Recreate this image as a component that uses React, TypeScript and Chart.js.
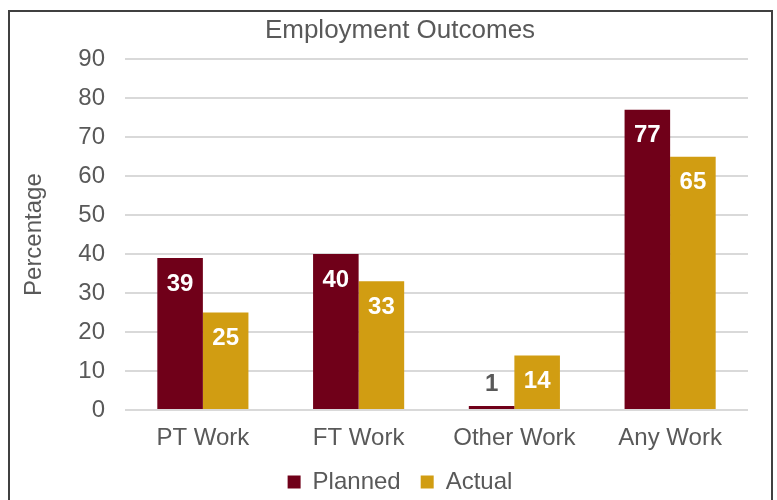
import React, { useEffect, useRef } from "react";
import { Chart, registerables } from "chart.js";

Chart.register(...registerables);

const categories = ["PT Work", "FT Work", "Other Work", "Any Work"];
const plannedValues = [39, 40, 1, 77];
const actualValues = [25, 33, 14, 65];
const seriesNames = ["Planned", "Actual"];
const seriesColors = ["#700019", "#D19D12"];
const yMin = 0;
const yMax = 90;
const yStep = 10;

const FONT = "'Liberation Sans', Arial, sans-serif";
const TEXT = "#595959";

const barLabels = {
  id: "barLabels",
  afterDatasetsDraw(chart: any) {
    const ctx = chart.ctx;
    ctx.save();
    ctx.font = `bold 24px ${FONT}`;
    ctx.textAlign = "center";
    ctx.textBaseline = "middle";
    chart.data.datasets.forEach((ds: any, di: number) => {
      const meta = chart.getDatasetMeta(di);
      meta.data.forEach((bar: any, i: number) => {
        const v = ds.data[i];
        const h = bar.base - bar.y;
        if (h > 40) {
          ctx.fillStyle = "#ffffff";
          ctx.fillText(String(v), bar.x, bar.y + 26);
        } else {
          ctx.fillStyle = TEXT;
          ctx.fillText(String(v), bar.x, bar.y - 22);
        }
      });
    });
    ctx.restore();
  },
};

export default function App() {
  const ref = useRef<HTMLCanvasElement | null>(null);

  useEffect(() => {
    if (!ref.current) return;
    const chart = new Chart(ref.current, {
      type: "bar",
      data: {
        labels: categories,
        datasets: [
          {
            label: seriesNames[0],
            data: plannedValues,
            backgroundColor: seriesColors[0],
            borderWidth: 0,
            categoryPercentage: 0.585,
            barPercentage: 1,
          },
          {
            label: seriesNames[1],
            data: actualValues,
            backgroundColor: seriesColors[1],
            borderWidth: 0,
            categoryPercentage: 0.585,
            barPercentage: 1,
          },
        ],
      },
      options: {
        animation: false,
        responsive: false,
        devicePixelRatio: 1,
        layout: { padding: { left: 42, right: 23, top: 0, bottom: 3 } },
        plugins: {
          title: {
            display: true,
            text: "Employment Outcomes",
            color: TEXT,
            font: { family: FONT, size: 26, weight: "normal" },
            padding: { top: 3, bottom: 13 },
          },
          legend: {
            position: "bottom",
            labels: {
              boxWidth: 13,
              boxHeight: 13,
              padding: 20,
              color: TEXT,
              font: { family: FONT, size: 24 },
            },
          },
          tooltip: { enabled: false },
        },
        scales: {
          x: {
            grid: { display: false, drawTicks: false },
            border: { display: false },
            ticks: { color: TEXT, font: { family: FONT, size: 24 }, padding: 14 },
            afterFit: (s: any) => {
              s.height = 40;
            },
          },
          y: {
            min: yMin,
            max: yMax,
            ticks: { stepSize: yStep, color: TEXT, font: { family: FONT, size: 24 }, padding: 20 },
            grid: { color: "#d9d9d9", lineWidth: 2, drawTicks: false },
            border: { display: false },
            title: {
              display: true,
              text: "Percentage",
              color: TEXT,
              font: { family: FONT, size: 24 },
              padding: { top: -32, bottom: 0 },
            },
            afterFit: (s: any) => {
              s.width = 73;
            },
          },
        },
      },
      plugins: [barLabels],
    } as any);
    return () => chart.destroy();
  }, []);

  return (
    <div
      style={{
        position: "fixed",
        left: 8,
        top: 10,
        width: 761,
        height: 495,
        border: "2px solid #404040",
        background: "#ffffff",
      }}
    >
      <canvas ref={ref} width={761} height={495} style={{ display: "block" }} />
    </div>
  );
}
